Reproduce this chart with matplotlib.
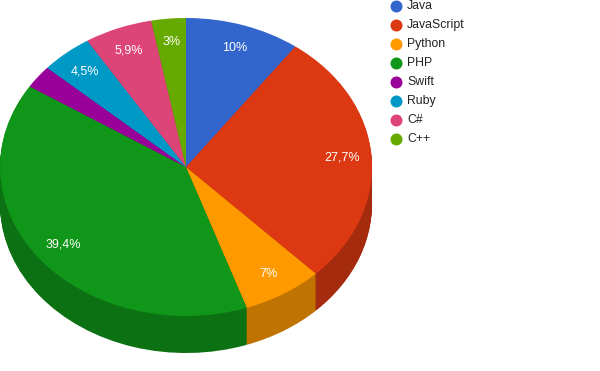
import matplotlib
matplotlib.use("Agg")
import matplotlib.pyplot as plt
from matplotlib.colors import to_rgb

languages = ["Java", "JavaScript", "Python", "PHP", "Swift", "Ruby", "C#", "C++"]
shares = [10, 27.7, 7, 39.4, 2.5, 4.5, 5.9, 3]
share_labels = ["10%", "27,7%", "7%", "39,4%", "", "4,5%", "5,9%", "3%"]
colors = ["#3366cc", "#dc3912", "#ff9900", "#109618", "#990099", "#0099c6", "#dd4477", "#66aa00"]

W, H = 600, 371
CX, CY, RX, RY, DEPTH = 186, 167, 186, 149, 37
plt.rcParams["font.family"] = ["Liberation Sans", "DejaVu Sans"]

fig = plt.figure(figsize=(W / 100, H / 100), dpi=100)
ax = fig.add_axes([0, 0, 1, 1])
dark = [tuple(c * 0.75 for c in to_rgb(col)) for col in colors]

# Extruded side: darker copies of the pie stacked downwards
for d in range(DEPTH, 0, -1):
    ax.pie(shares, colors=dark, startangle=90, counterclock=False,
           center=(0, -d / RY), radius=1, wedgeprops=dict(linewidth=0))

# Top face
ax.pie(shares, colors=colors, startangle=90, counterclock=False,
       labels=share_labels, labeldistance=0.84, rotatelabels=False,
       textprops=dict(color="white", fontsize=9, ha="center", va="center"),
       wedgeprops=dict(linewidth=0))

# Map pie units to the reference's elliptical footprint
ax.set_aspect("auto")
ax.set_xlim(-CX / RX, (W - CX) / RX)
ax.set_ylim(-(H - CY) / RY, CY / RY)
ax.axis("off")

# Legend
for i, (name, col) in enumerate(zip(languages, colors)):
    y = 1 - (6 + 19 * i) / H
    fig.text(407 / W, y, name, color="#222222", fontsize=8.8, ha="left", va="center")
    fig.add_artist(plt.Line2D([396 / W], [y], marker="o", markersize=8.64, color=col,
                              markeredgewidth=0, linestyle="none", transform=fig.transFigure))

fig.savefig("out.png", dpi=100, facecolor="white")
